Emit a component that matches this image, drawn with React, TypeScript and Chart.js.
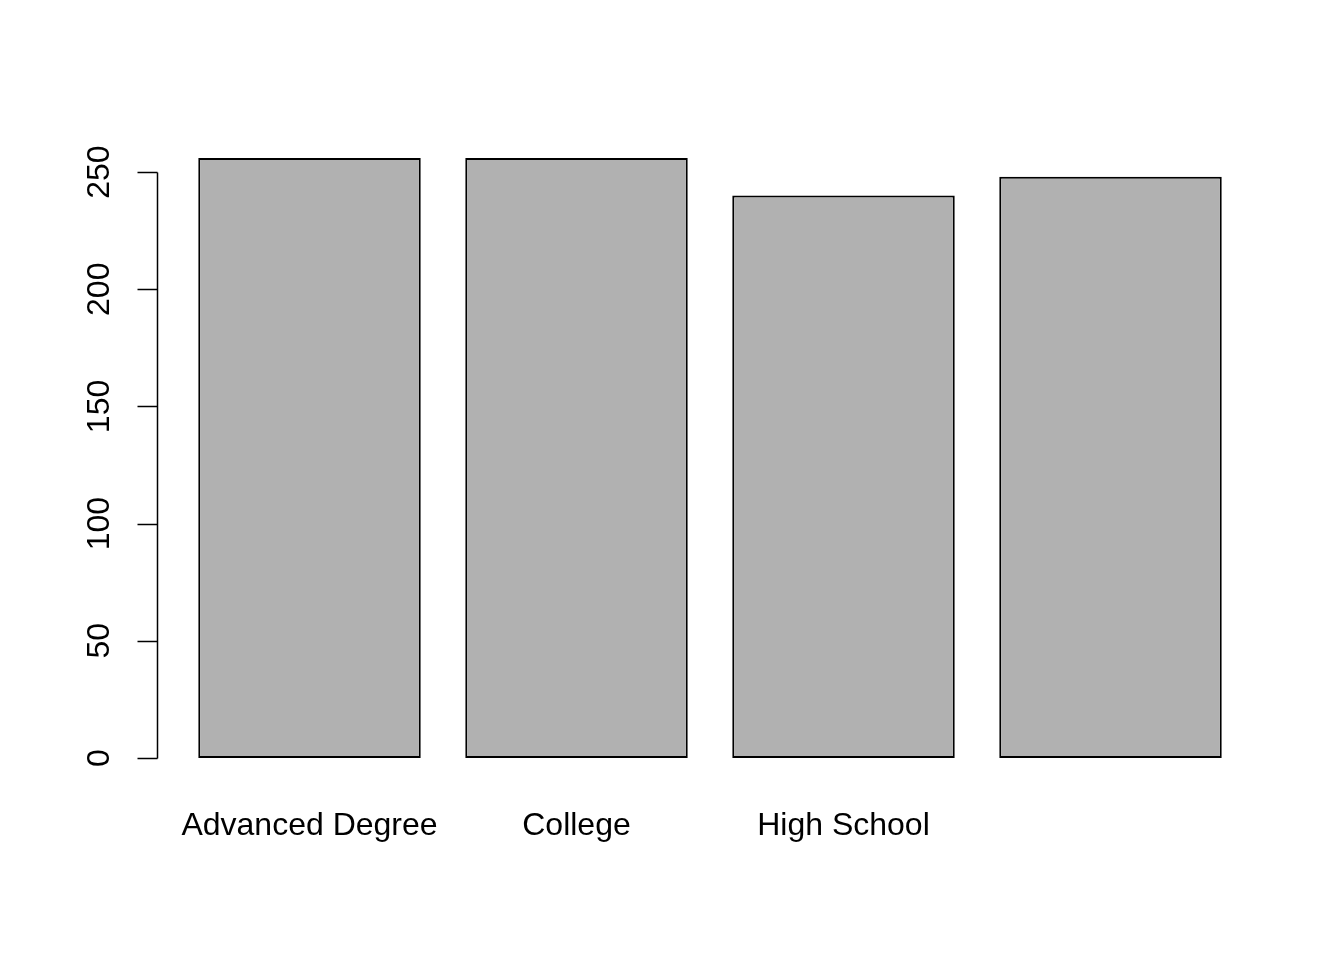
import React, { useEffect, useRef } from "react";
import { Chart, registerables } from "chart.js";

Chart.register(...registerables);

const categories: string[] = ["Advanced Degree", "College", "High School", ""];
const counts: number[] = [256, 256, 240, 248];
const yTicks: number[] = [0, 50, 100, 150, 200, 250];

const FONT = "'Liberation Sans', Arial, Helvetica, sans-serif";

const rAxisPlugin = {
  id: "rAxis",
  afterDraw(chart: any) {
    const ctx = chart.ctx;
    const y = chart.scales.y;
    const axisX = chart.chartArea.left - 18.5;
    ctx.save();
    ctx.strokeStyle = "#000";
    ctx.lineWidth = 1.5;
    ctx.beginPath();
    ctx.moveTo(axisX, Math.round(y.getPixelForValue(yTicks[0])) + 0.5);
    ctx.lineTo(axisX, Math.round(y.getPixelForValue(yTicks[yTicks.length - 1])) + 0.5);
    for (const t of yTicks) {
      const py = Math.round(y.getPixelForValue(t)) + 0.5;
      ctx.moveTo(axisX, py);
      ctx.lineTo(axisX - 20, py);
    }
    ctx.stroke();
    ctx.fillStyle = "#000";
    ctx.font = `32px ${FONT}`;
    ctx.textAlign = "center";
    ctx.textBaseline = "middle";
    for (const t of yTicks) {
      const py = y.getPixelForValue(t);
      ctx.save();
      ctx.translate(axisX - 57, py);
      ctx.rotate(-Math.PI / 2);
      ctx.fillText(String(t), 0, 0);
      ctx.restore();
    }
    ctx.restore();
  },
};

export default function App() {
  const ref = useRef<HTMLCanvasElement | null>(null);
  useEffect(() => {
    if (!ref.current) return;
    const chart = new Chart(ref.current, {
      type: "bar",
      data: {
        labels: categories,
        datasets: [
          {
            data: counts,
            backgroundColor: "#B1B1B1",
            borderColor: "#000000",
            borderWidth: 2,
            borderSkipped: false,
            barPercentage: 1 / 1.2,
            categoryPercentage: 1,
          },
        ],
      },
      options: {
        responsive: false,
        animation: false,
        devicePixelRatio: 1,
        layout: { padding: { left: 176, right: 100, top: 134, bottom: 0 } },
        plugins: { legend: { display: false }, tooltip: { enabled: false } },
        scales: {
          y: {
            display: false,
            min: -10.24,
            max: 266.24,
          },
          x: {
            grid: { display: false, drawTicks: false },
            border: { display: false },
            ticks: {
              color: "#000",
              font: { family: FONT, size: 32 },
              padding: 25,
              maxRotation: 0,
              minRotation: 0,
              autoSkip: false,
            },
            afterFit(scale: any) {
              scale.height = 960 - 782;
            },
          },
        },
      },
      plugins: [rAxisPlugin],
    });
    return () => chart.destroy();
  }, []);
  return (
    <div style={{ position: "absolute", left: 0, top: 0, width: 1344, height: 960, background: "#fff" }}>
      <canvas ref={ref} width={1344} height={960} style={{ display: "block" }} />
    </div>
  );
}
